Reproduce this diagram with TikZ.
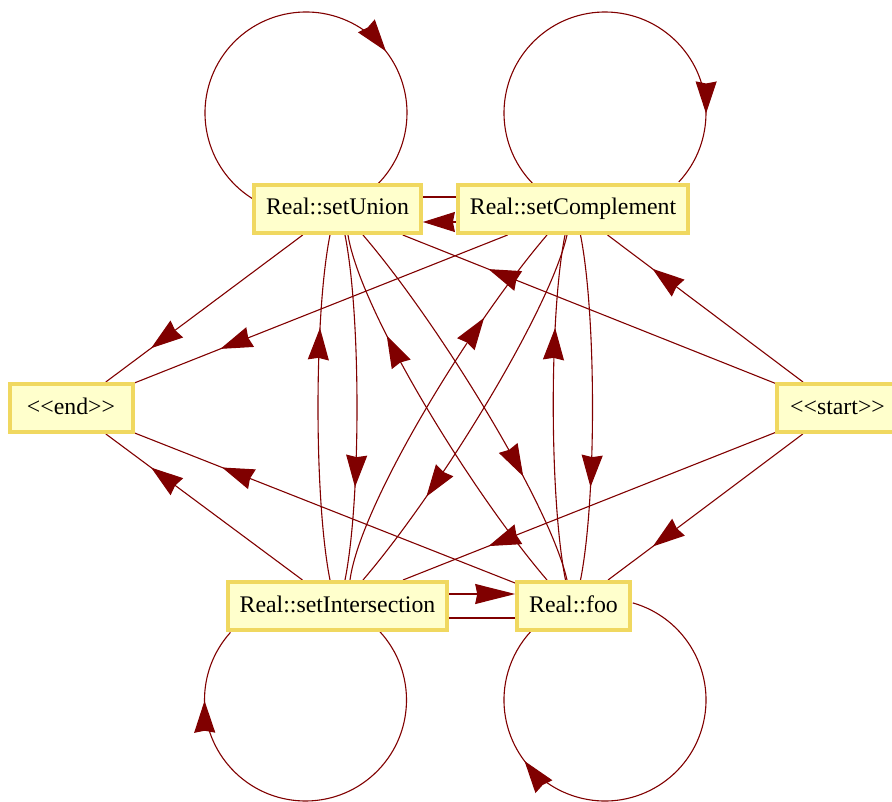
\documentclass[tikz,border=0pt]{standalone}
\usepackage{fontspec}
\setmainfont{Liberation Serif}
\usetikzlibrary{arrows.meta,decorations.markings,calc,backgrounds}
\definecolor{edgecol}{HTML}{800000}
\definecolor{boxfill}{HTML}{FFFFCC}
\definecolor{boxline}{HTML}{F0D860}
\begin{document}
\begin{tikzpicture}[x=1pt,y=1pt,
  state/.style={draw=boxline, fill=boxfill, line width=4pt, inner xsep=12pt, inner ysep=0pt,
    minimum height=48pt, text height=17pt, text depth=5pt, font=\fontsize{23.8}{28}\selectfont},
  edge/.style={color=edgecol, line width=1.1pt},
  midarrow/.style={postaction={decorate}, decoration={markings,
    mark=at position #1 with {\arrow{Stealth[length=32pt,width=21pt,inset=2pt]}}}},
  endarrow/.style={-{Stealth[length=#1,width=20pt,inset=2pt]}},
  endarrow/.default=32pt
]
\useasboundingbox (0,0) rectangle (892,-802);
% nodes
\node[state] (u) at (337.5,-209) {Real::setUnion};
\node[state] (c) at (573,-209) {Real::setComplement};
\node[state, minimum width=123pt] (e) at (71,-408) {<\kern0pt<end>\kern0pt>};
\node[state, anchor=west, minimum width=121pt] (s) at (775,-408) {<\kern0pt<start>\kern0pt>};
\node[state] (i) at (337.5,-606) {Real::setIntersection};
\node[state] (f) at (573.5,-606) {Real::foo};
\begin{pgfonlayer}{background}
% loops
\draw[edge, midarrow=0.71] ($(u.center)+(-31.5,96)+(240:101)$) arc[start angle=240, end angle=-45, radius=101pt];
\draw[edge, midarrow=0.84] ($(c.center)+(32,96)+(224:101)$) arc[start angle=224, end angle=-43, radius=101pt];
\draw[edge, midarrow=0.84] ($(i.center)+(-32,-94)+(43:101)$) arc[start angle=43, end angle=-222, radius=101pt];
\draw[edge, midarrow=0.73] ($(f.center)+(31.5,-94)+(74:101)$) arc[start angle=74, end angle=-223, radius=101pt];
% straight edges
\draw[edge, midarrow=0.77] (u) -- (e);
\draw[edge, midarrow=0.77] (c) -- (e);
\draw[edge, midarrow=0.77] (i) -- (e);
\draw[edge, midarrow=0.77] (f) -- (e);
\draw[edge, midarrow=0.77] (s) -- (c);
\draw[edge, midarrow=0.77] (s) -- (u);
\draw[edge, midarrow=0.77] (s) -- (i);
\draw[edge, midarrow=0.77] (s) -- (f);
% parallel edges
\draw[edge, endarrow] ([yshift=-13pt]c.west) -- ([yshift=-13pt]u.east);
\draw[edge] ([yshift=12pt]u.east) -- ([yshift=12pt]c.west);
\draw[edge, endarrow=40pt] ([yshift=12pt]i.east) -- ([yshift=12pt]f.west);
\draw[edge] ([yshift=-12pt]i.east) -- ([yshift=-12pt]f.west);
% vertical curves
\draw[edge, midarrow=0.73] ([xshift=-7.5pt]i.north) .. controls +(-16,80) and +(-16,-80) .. ([xshift=-7.5pt]u.south);
\draw[edge, midarrow=0.73] ([xshift=7.5pt]u.south) .. controls +(16,-80) and +(16,80) .. ([xshift=7.5pt]i.north);
\draw[edge, midarrow=0.73] ([xshift=-8pt]f.north) .. controls +(-16,80) and +(-16,-80) .. ([xshift=-8pt]c.south);
\draw[edge, midarrow=0.73] ([xshift=7.5pt]c.south) .. controls +(16,-80) and +(16,80) .. ([xshift=7pt]f.north);
% crossing curves
\draw[edge, midarrow=0.73] ([xshift=-26.5pt]f.north) .. controls +(-77,90) and +(12,-75) .. ([xshift=10.5pt]u.south);
\draw[edge, midarrow=0.74] ([xshift=12.5pt]i.north) .. controls +(10,75) and +(-77,-90) .. ([xshift=-26pt]c.south);
\draw[edge, midarrow=0.72] ([xshift=25.5pt]u.south) .. controls +(77,-90) and +(-17,75) .. ([xshift=-6.5pt]f.north);
\draw[edge, midarrow=0.74] ([xshift=-6pt]c.south) .. controls +(-17,-75) and +(77,90) .. ([xshift=25.5pt]i.north);
\end{pgfonlayer}
\end{tikzpicture}
\end{document}
